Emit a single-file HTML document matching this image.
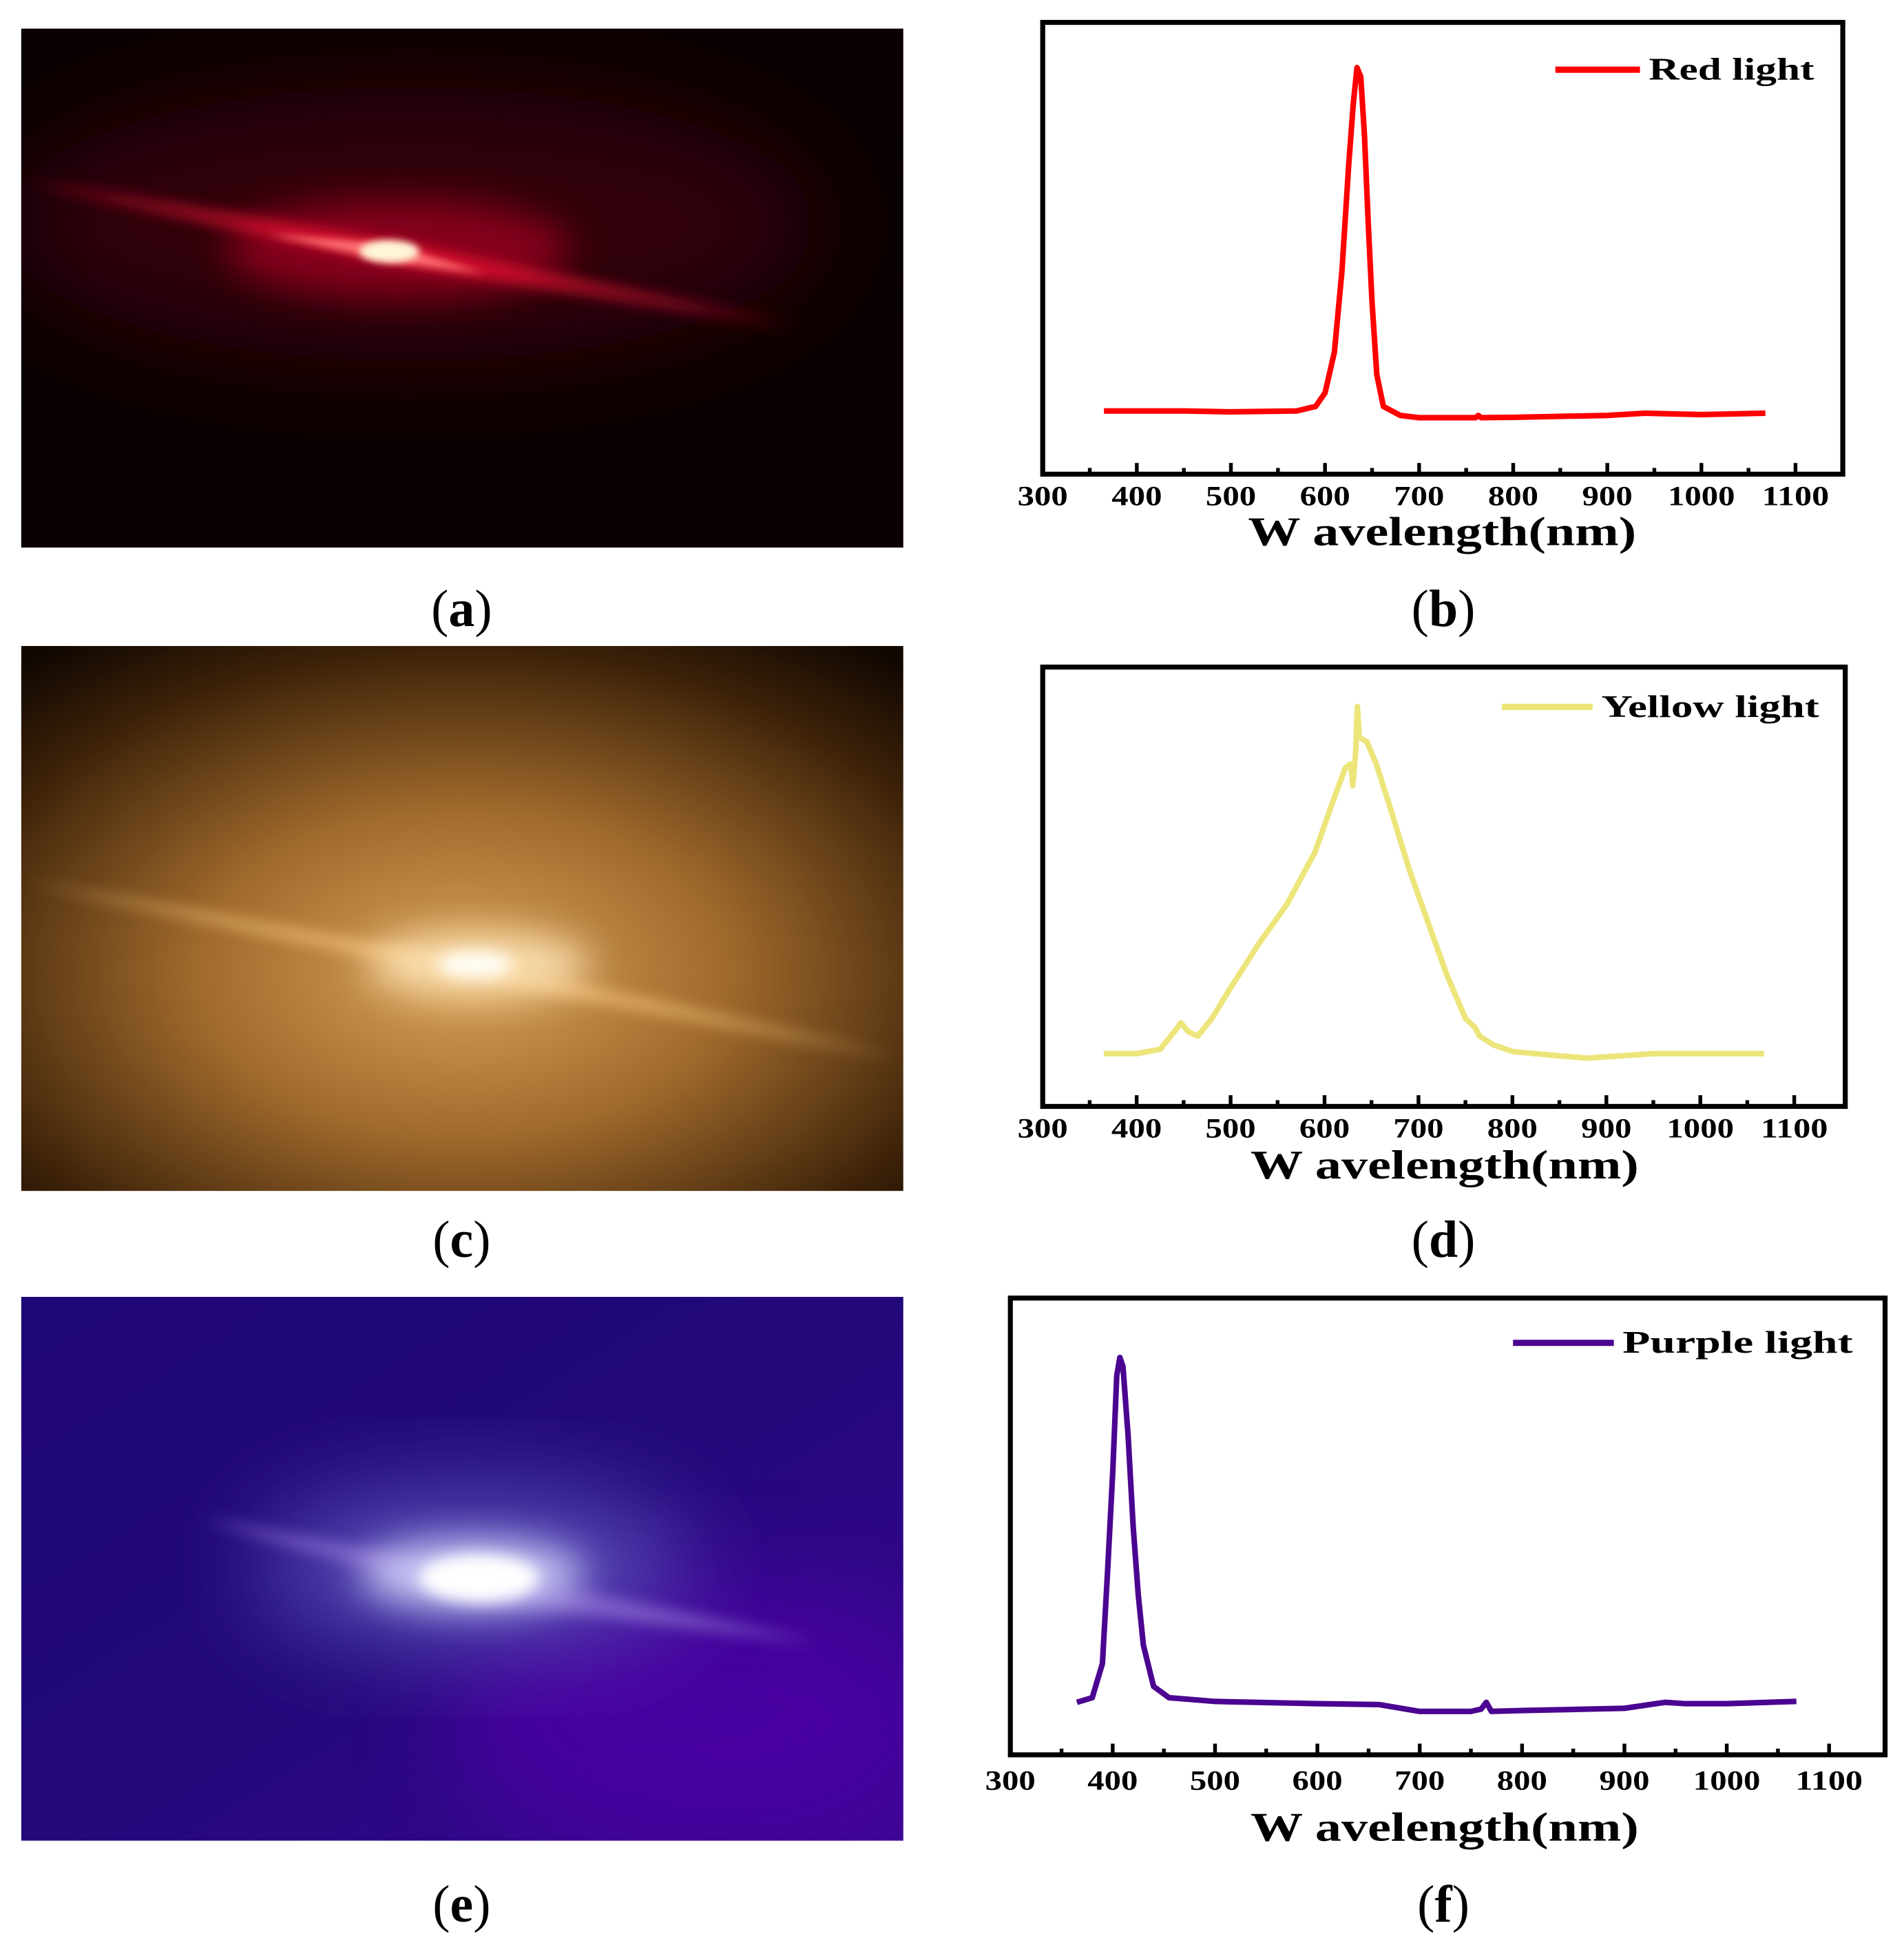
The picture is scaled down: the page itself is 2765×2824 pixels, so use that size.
<!DOCTYPE html>
<html><head><meta charset="utf-8"><style>
html,body{margin:0;padding:0;background:#fff;}
svg{display:block;}
text{font-family:"Liberation Serif",serif;}
</style></head><body>
<svg id="fig" width="2765" height="2824" viewBox="0 0 1530.2 1562.8" preserveAspectRatio="none" xmlns="http://www.w3.org/2000/svg">
<defs>
<filter id="b6" x="-50%" y="-50%" width="200%" height="200%"><feGaussianBlur stdDeviation="6"/></filter>
<filter id="b3" x="-50%" y="-50%" width="200%" height="200%"><feGaussianBlur stdDeviation="3"/></filter>
<filter id="b15" x="-50%" y="-50%" width="200%" height="200%"><feGaussianBlur stdDeviation="15"/></filter>
<filter id="b40" x="-50%" y="-50%" width="200%" height="200%"><feGaussianBlur stdDeviation="40"/></filter>
<clipPath id="ca"><rect x="17" y="23" width="709" height="417"/></clipPath>
<clipPath id="cc"><rect x="17" y="519" width="709" height="438"/></clipPath>
<clipPath id="ce"><rect x="17" y="1042" width="709" height="437"/></clipPath>
<radialGradient id="gyel" cx="0.5" cy="0.6" r="0.75"><stop offset="0" stop-color="#d9a25a"/><stop offset="0.4" stop-color="#a06a2c"/><stop offset="0.8" stop-color="#3a2008"/><stop offset="1" stop-color="#120802"/></radialGradient>
<linearGradient id="gpur" x1="0" y1="0" x2="1" y2="1"><stop offset="0" stop-color="#1f0677"/><stop offset="0.5" stop-color="#22087a"/><stop offset="1" stop-color="#3c0794"/></linearGradient>
</defs>

<g clip-path="url(#ca)">
<rect x="17" y="23" width="709" height="417" fill="#0a0002"/>
<ellipse cx="330" cy="180" rx="330" ry="110" fill="#3a000a" filter="url(#b40)" opacity="0.8"/>
<ellipse cx="320" cy="200" rx="140" ry="40" fill="#90001a" filter="url(#b15)" opacity="0.9"/>
<polygon points="17,145 320,195 640,262 320,212" fill="#ff1838" filter="url(#b6)" opacity="0.75"/>
<polygon points="215,188 313,196 390,220 313,210" fill="#ff7070" filter="url(#b3)"/>
<ellipse cx="313" cy="202" rx="24" ry="9" fill="#fff6d8" filter="url(#b3)"/>
</g>
<text x="371" y="503" font-size="42" text-anchor="middle">(<tspan font-weight="bold">a</tspan>)</text>

<g clip-path="url(#cc)">
<rect x="17" y="519" width="709" height="438" fill="url(#gyel)"/>
<polygon points="17,708 380,772 726,850 380,786" fill="#f6c27a" filter="url(#b6)" opacity="0.8"/>
<ellipse cx="385" cy="775" rx="90" ry="25" fill="#fbe0b0" filter="url(#b15)"/>
<ellipse cx="382" cy="775" rx="30" ry="11" fill="#fffdf4" filter="url(#b6)"/>
</g>
<text x="371" y="1010" font-size="42" text-anchor="middle">(<tspan font-weight="bold">c</tspan>)</text>

<g clip-path="url(#ce)">
<rect x="17" y="1042" width="709" height="437" fill="url(#gpur)"/>
<ellipse cx="560" cy="1380" rx="200" ry="110" fill="#4d06a6" filter="url(#b40)" opacity="0.8"/>
<ellipse cx="380" cy="1260" rx="170" ry="60" fill="#5a4fb8" filter="url(#b40)"/>
<polygon points="160,1220 390,1262 660,1320 390,1288" fill="#8a6ad0" filter="url(#b6)" opacity="0.8"/>
<ellipse cx="380" cy="1265" rx="90" ry="28" fill="#c8c8f4" filter="url(#b15)"/>
<ellipse cx="385" cy="1268" rx="48" ry="19" fill="#ffffff" filter="url(#b6)"/>
</g>
<text x="371" y="1544" font-size="42" text-anchor="middle">(<tspan font-weight="bold">e</tspan>)</text>

<g id="plots"></g>
</svg>
<script>
const ticksX = [300,400,500,600,700,800,900,1000,1100];
const redWl = [365,450,500,570,590,600,610,618,625,630,634,638,642,646,650,655,662,680,700,760,763,766,800,900,940,1000,1068];
const redInt = [0.14,0.14,0.138,0.14,0.15,0.18,0.27,0.45,0.68,0.82,0.9,0.88,0.75,0.55,0.38,0.22,0.15,0.13,0.125,0.125,0.13,0.125,0.126,0.13,0.135,0.132,0.135];
const yelWl = [365,400,425,440,447,455,465,480,500,530,560,590,610,622,628,630,633,635,637,645,655,670,690,710,730,750,760,765,780,800,850,880,950,1000,1068];
const yelInt = [0.12,0.12,0.13,0.17,0.19,0.17,0.16,0.2,0.27,0.37,0.46,0.58,0.7,0.77,0.78,0.73,0.8,0.91,0.84,0.83,0.78,0.68,0.54,0.42,0.3,0.2,0.18,0.16,0.14,0.125,0.115,0.11,0.12,0.12,0.12];
const purWl = [365,380,390,395,400,404,407,410,415,420,425,430,440,455,500,600,660,700,750,760,765,770,800,900,940,960,1000,1068];
const purInt = [0.115,0.125,0.2,0.4,0.62,0.83,0.87,0.85,0.7,0.5,0.35,0.24,0.15,0.125,0.117,0.112,0.11,0.095,0.095,0.1,0.115,0.095,0.097,0.102,0.115,0.112,0.112,0.117];

const NS = "http://www.w3.org/2000/svg";
const root = document.getElementById('plots');
function mk(tag, attrs, parent){const e=document.createElementNS(NS,tag);for(const k in attrs)e.setAttribute(k,attrs[k]);parent.appendChild(e);return e;}

function plot(cfg){
  const g = mk('g',{},root);
  
  
  const {l,r,t,b,x300,x1100} = cfg;
  const sx = v => x300 + (v-300)/800*(x1100-x300);
  const sy = v => b - v*(b-t);
  const box = mk('rect',{x:l,y:t,width:r-l,height:b-t,fill:'none',stroke:'#000','stroke-width':4},g);
  
  
  for(let v=300; v<=1100; v+=50){
    const major = v%100===0;
    const tk = mk('line',{x1:sx(v),x2:sx(v),y1:b,y2:b-(major?9:5),stroke:'#000','stroke-width':3},g);
    
    
  }
  ticksX.forEach(v=>{
    const tx = mk('text',{x:sx(v),y:cfg.tickY,'font-size':22,'font-weight':'bold','text-anchor':'middle','textLength':String(v).length*13.5,'lengthAdjust':'spacingAndGlyphs'},g);
    tx.textContent = v;
    
    
  });
  const title = mk('text',{x:cfg.titleX-156,y:cfg.titleY,'font-size':33,'font-weight':'bold','textLength':312,'lengthAdjust':'spacingAndGlyphs'},g);
  title.textContent = 'W avelength(nm)';
  
  
  const d = cfg.wl.map((w,i)=>(i?'L':'M')+sx(w).toFixed(1)+','+sy(cfg.int[i]).toFixed(1)).join(' ');
  const p = mk('path',{d:d,fill:'none',stroke:cfg.color,'stroke-width':4.5,'stroke-linejoin':'round'},g);
  
  
  const lg = mk('g',{},g);
  
  
  mk('line',{x1:cfg.legX1,x2:cfg.legX2,y1:cfg.legY,y2:cfg.legY,stroke:cfg.color,'stroke-width':5},lg);
  const lt = mk('text',{x:cfg.legX2+7,y:cfg.legY+8,'font-size':25,'font-weight':'bold','textLength':cfg.legW,'lengthAdjust':'spacingAndGlyphs'},lg);
  lt.textContent = cfg.legend;
  const pl = mk('text',{x:cfg.panelX,y:cfg.panelY,'font-size':42,'text-anchor':'middle'},g);
  
  
  pl.innerHTML = '(<tspan font-weight="bold">'+cfg.panel+'</tspan>)';
}

plot({name:'chart-red-spectrum',l:838,r:1481,t:18,b:381,x300:838,x1100:1443,tickY:406,titleX:1159,titleY:438,
  wl:redWl,int:redInt,color:'#ff0000',seriesName:'series-red-light',legX1:1250,legX2:1318,legY:56,legend:'Red light',legW:133,panel:'b',panelX:1160,panelY:503});
plot({name:'chart-yellow-spectrum',l:838,r:1483,t:536,b:889,x300:838,x1100:1442,tickY:914,titleX:1161,titleY:947,
  wl:yelWl,int:yelInt,color:'#ece57a',seriesName:'series-yellow-light',legX1:1207,legX2:1280,legY:568,legend:'Yellow light',legW:175,panel:'d',panelX:1160,panelY:1010});
plot({name:'chart-purple-spectrum',l:812,r:1515,t:1043,b:1410,x300:812,x1100:1470,tickY:1438,titleX:1161,titleY:1479,
  wl:purWl,int:purInt,color:'#4b0491',seriesName:'series-purple-light',legX1:1216,legX2:1297,legY:1079,legend:'Purple light',legW:185,panel:'f',panelX:1160,panelY:1544});
</script>
</body></html>
